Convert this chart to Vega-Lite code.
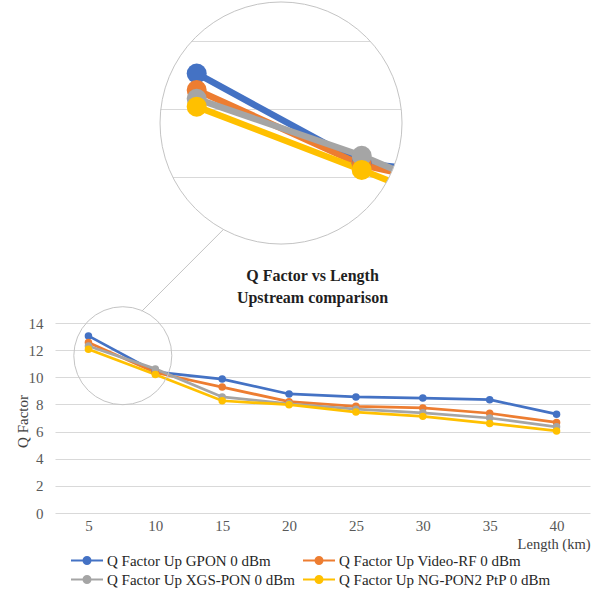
{
  "$schema": "https://vega.github.io/schema/vega-lite/v6.json",
  "width": 535,
  "height": 513,
  "autosize": {"type": "none"},
  "padding": {"left": 55, "top": 0, "right": 2, "bottom": 79},
  "background": "white",
  "config": {"view": {"stroke": null}, "font": "Liberation Serif"},
  "title": {
    "text": ["Q Factor  vs Length", "Upstream comparison"],
    "font": "Liberation Serif",
    "fontSize": 16,
    "fontWeight": "bold",
    "color": "#1f1f1f",
    "anchor": "middle",
    "frame": "group",
    "dx": -10,
    "lineHeight": 21.5,
    "offset": -316
  },
  "datasets": {
    "q": [
      {"len": 5, "series": "Q Factor Up GPON 0 dBm", "q": 13.05},
      {"len": 10, "series": "Q Factor Up GPON 0 dBm", "q": 10.4},
      {"len": 15, "series": "Q Factor Up GPON 0 dBm", "q": 9.87},
      {"len": 20, "series": "Q Factor Up GPON 0 dBm", "q": 8.77},
      {"len": 25, "series": "Q Factor Up GPON 0 dBm", "q": 8.55},
      {"len": 30, "series": "Q Factor Up GPON 0 dBm", "q": 8.47},
      {"len": 35, "series": "Q Factor Up GPON 0 dBm", "q": 8.35},
      {"len": 40, "series": "Q Factor Up GPON 0 dBm", "q": 7.28},
      {"len": 5, "series": "Q Factor Up Video-RF 0 dBm", "q": 12.56},
      {"len": 10, "series": "Q Factor Up Video-RF 0 dBm", "q": 10.35},
      {"len": 15, "series": "Q Factor Up Video-RF 0 dBm", "q": 9.28},
      {"len": 20, "series": "Q Factor Up Video-RF 0 dBm", "q": 8.2},
      {"len": 25, "series": "Q Factor Up Video-RF 0 dBm", "q": 7.86},
      {"len": 30, "series": "Q Factor Up Video-RF 0 dBm", "q": 7.74},
      {"len": 35, "series": "Q Factor Up Video-RF 0 dBm", "q": 7.35},
      {"len": 40, "series": "Q Factor Up Video-RF 0 dBm", "q": 6.67},
      {"len": 5, "series": "Q Factor Up XGS-PON 0 dBm", "q": 12.3},
      {"len": 10, "series": "Q Factor Up XGS-PON 0 dBm", "q": 10.62},
      {"len": 15, "series": "Q Factor Up XGS-PON 0 dBm", "q": 8.55},
      {"len": 20, "series": "Q Factor Up XGS-PON 0 dBm", "q": 8.05},
      {"len": 25, "series": "Q Factor Up XGS-PON 0 dBm", "q": 7.65},
      {"len": 30, "series": "Q Factor Up XGS-PON 0 dBm", "q": 7.38},
      {"len": 35, "series": "Q Factor Up XGS-PON 0 dBm", "q": 7.0},
      {"len": 40, "series": "Q Factor Up XGS-PON 0 dBm", "q": 6.35},
      {"len": 5, "series": "Q Factor Up NG-PON2 PtP 0 dBm", "q": 12.07},
      {"len": 10, "series": "Q Factor Up NG-PON2 PtP 0 dBm", "q": 10.2},
      {"len": 15, "series": "Q Factor Up NG-PON2 PtP 0 dBm", "q": 8.27},
      {"len": 20, "series": "Q Factor Up NG-PON2 PtP 0 dBm", "q": 7.98},
      {"len": 25, "series": "Q Factor Up NG-PON2 PtP 0 dBm", "q": 7.44},
      {"len": 30, "series": "Q Factor Up NG-PON2 PtP 0 dBm", "q": 7.12},
      {"len": 35, "series": "Q Factor Up NG-PON2 PtP 0 dBm", "q": 6.6},
      {"len": 40, "series": "Q Factor Up NG-PON2 PtP 0 dBm", "q": 6.05}
    ],
    "one": [{}]
  },
  "resolve": {"scale": {"x": "independent", "y": "independent"}},
  "layer": [
    {
      "layer": [
        {
          "data": {"name": "q"},
          "transform": [{"filter": "datum.len <= 15"}],
          "mark": {"type": "line", "strokeWidth": 6.5},
          "encoding": {
            "x": {"field": "len", "type": "quantitative", "scale": {"domain": [0.706, 16.918], "nice": false, "zero": false}, "axis": null},
            "y": {"field": "q", "type": "quantitative", "scale": {"domain": [0.065, 15.22], "nice": false, "zero": false},
                  "axis": {"orient": "right", "values": [10, 12, 14], "grid": true, "gridColor": "#d9d9d9", "labels": false, "ticks": false, "domain": false, "title": null}},
            "color": {"field": "series", "type": "nominal", "sort": null,
              "scale": {"domain": ["Q Factor Up GPON 0 dBm", "Q Factor Up XGS-PON 0 dBm", "Q Factor Up Video-RF 0 dBm", "Q Factor Up NG-PON2 PtP 0 dBm"], "range": ["#4472C4", "#A5A5A5", "#ED7D31", "#FFC000"]},
              "legend": {
                "orient": "none", "legendX": 24, "legendY": 552.5, "columns": 2, "title": null,
                "symbolType": "M-2.286,0H2.286M0.5,0A0.5,0.5,0,1,1,-0.5,0A0.5,0.5,0,1,1,0.5,0Z",
                "symbolSize": 196, "symbolStrokeWidth": 2,
                "labelFont": "Liberation Serif", "labelFontSize": 15, "labelColor": "#262626", "labelLimit": 400, "labelOffset": 12,
                "columnPadding": 3, "rowPadding": 3,
                "encode": {"symbols": {"update": {"fill": {"scale": "color", "field": "value"}, "stroke": {"scale": "color", "field": "value"}, "opacity": {"value": 1}}}}
              }
            }
          }
        },
        {
          "data": {"name": "q"},
          "transform": [{"filter": "datum.len <= 15"}],
          "mark": {"type": "point", "filled": true, "size": 400, "opacity": 1},
          "encoding": {
            "x": {"field": "len", "type": "quantitative"},
            "y": {"field": "q", "type": "quantitative"},
            "color": {"field": "series", "type": "nominal", "sort": null}
          }
        },
        {
          "data": {"name": "one"},
          "mark": {"type": "point", "shape": "M-2.4,-1.1L2.7,-1.1L2.7,1.1L-2.4,1.1Z M1,0A1,1,0,0,0,-1,0A1,1,0,0,0,1,0Z", "filled": true, "fill": "white", "strokeWidth": 0, "size": 58564, "opacity": 1},
          "encoding": {
            "x": {"datum": 7.555, "type": "quantitative"},
            "y": {"datum": 11.586, "type": "quantitative"}
          }
        },
        {
          "data": {"name": "one"},
          "mark": {"type": "point", "shape": "circle", "filled": false, "stroke": "#c4c4c4", "strokeWidth": 1, "size": 58564, "opacity": 1},
          "encoding": {
            "x": {"datum": 7.555, "type": "quantitative"},
            "y": {"datum": 11.586, "type": "quantitative"}
          }
        }
      ]
    },
    {
      "layer": [
        {
          "data": {"name": "q"},
          "mark": {"type": "line", "strokeWidth": 2.75},
          "encoding": {
            "x": {"field": "len", "type": "quantitative", "scale": {"domain": [2.5, 42.5], "nice": false, "zero": false},
                  "axis": {"orient": "bottom", "values": [5, 10, 15, 20, 25, 30, 35, 40], "grid": false, "domain": false, "ticks": false, "labelPadding": 5,
                           "labelFont": "Liberation Serif", "labelFontSize": 15, "labelColor": "#595959",
                           "title": "Length (km)", "titleAnchor": "end", "titleFont": "Liberation Serif", "titleFontSize": 14.5, "titleFontWeight": "normal", "titleColor": "#404040", "titlePadding": 4}},
            "y": {"field": "q", "type": "quantitative", "scale": {"domain": [0, 37.8], "nice": false, "zero": false},
                  "axis": {"orient": "left", "values": [0, 2, 4, 6, 8, 10, 12, 14], "grid": true, "gridColor": "#d9d9d9", "domain": false, "ticks": false, "labelPadding": 12,
                           "labelFont": "Liberation Serif", "labelFontSize": 15, "labelColor": "#595959",
                           "title": "Q Factor", "titleFont": "Liberation Serif", "titleFontSize": 15, "titleFontWeight": "normal", "titleColor": "#404040",
                           "titleX": -33, "titleY": 421, "titleAngle": -90, "titleAlign": "center", "titleBaseline": "middle"}},
            "color": {"field": "series", "type": "nominal", "sort": null}
          }
        },
        {
          "data": {"name": "q"},
          "mark": {"type": "point", "filled": true, "size": 56, "opacity": 1},
          "encoding": {
            "x": {"field": "len", "type": "quantitative"},
            "y": {"field": "q", "type": "quantitative"},
            "color": {"field": "series", "type": "nominal", "sort": null}
          }
        },
        {
          "data": {"name": "one"},
          "mark": {"type": "point", "shape": "circle", "filled": false, "stroke": "#c4c4c4", "strokeWidth": 1, "size": 9604, "opacity": 1},
          "encoding": {
            "x": {"datum": 7.57, "type": "quantitative"},
            "y": {"datum": 11.59, "type": "quantitative"}
          }
        },
        {
          "data": {"name": "one"},
          "mark": {"type": "rule", "stroke": "#c4c4c4", "strokeWidth": 1},
          "encoding": {
            "x": {"datum": 8.98, "type": "quantitative"},
            "y": {"datum": 14.86, "type": "quantitative"},
            "x2": {"datum": 15.08},
            "y2": {"datum": 20.88}
          }
        }
      ]
    }
  ]
}
